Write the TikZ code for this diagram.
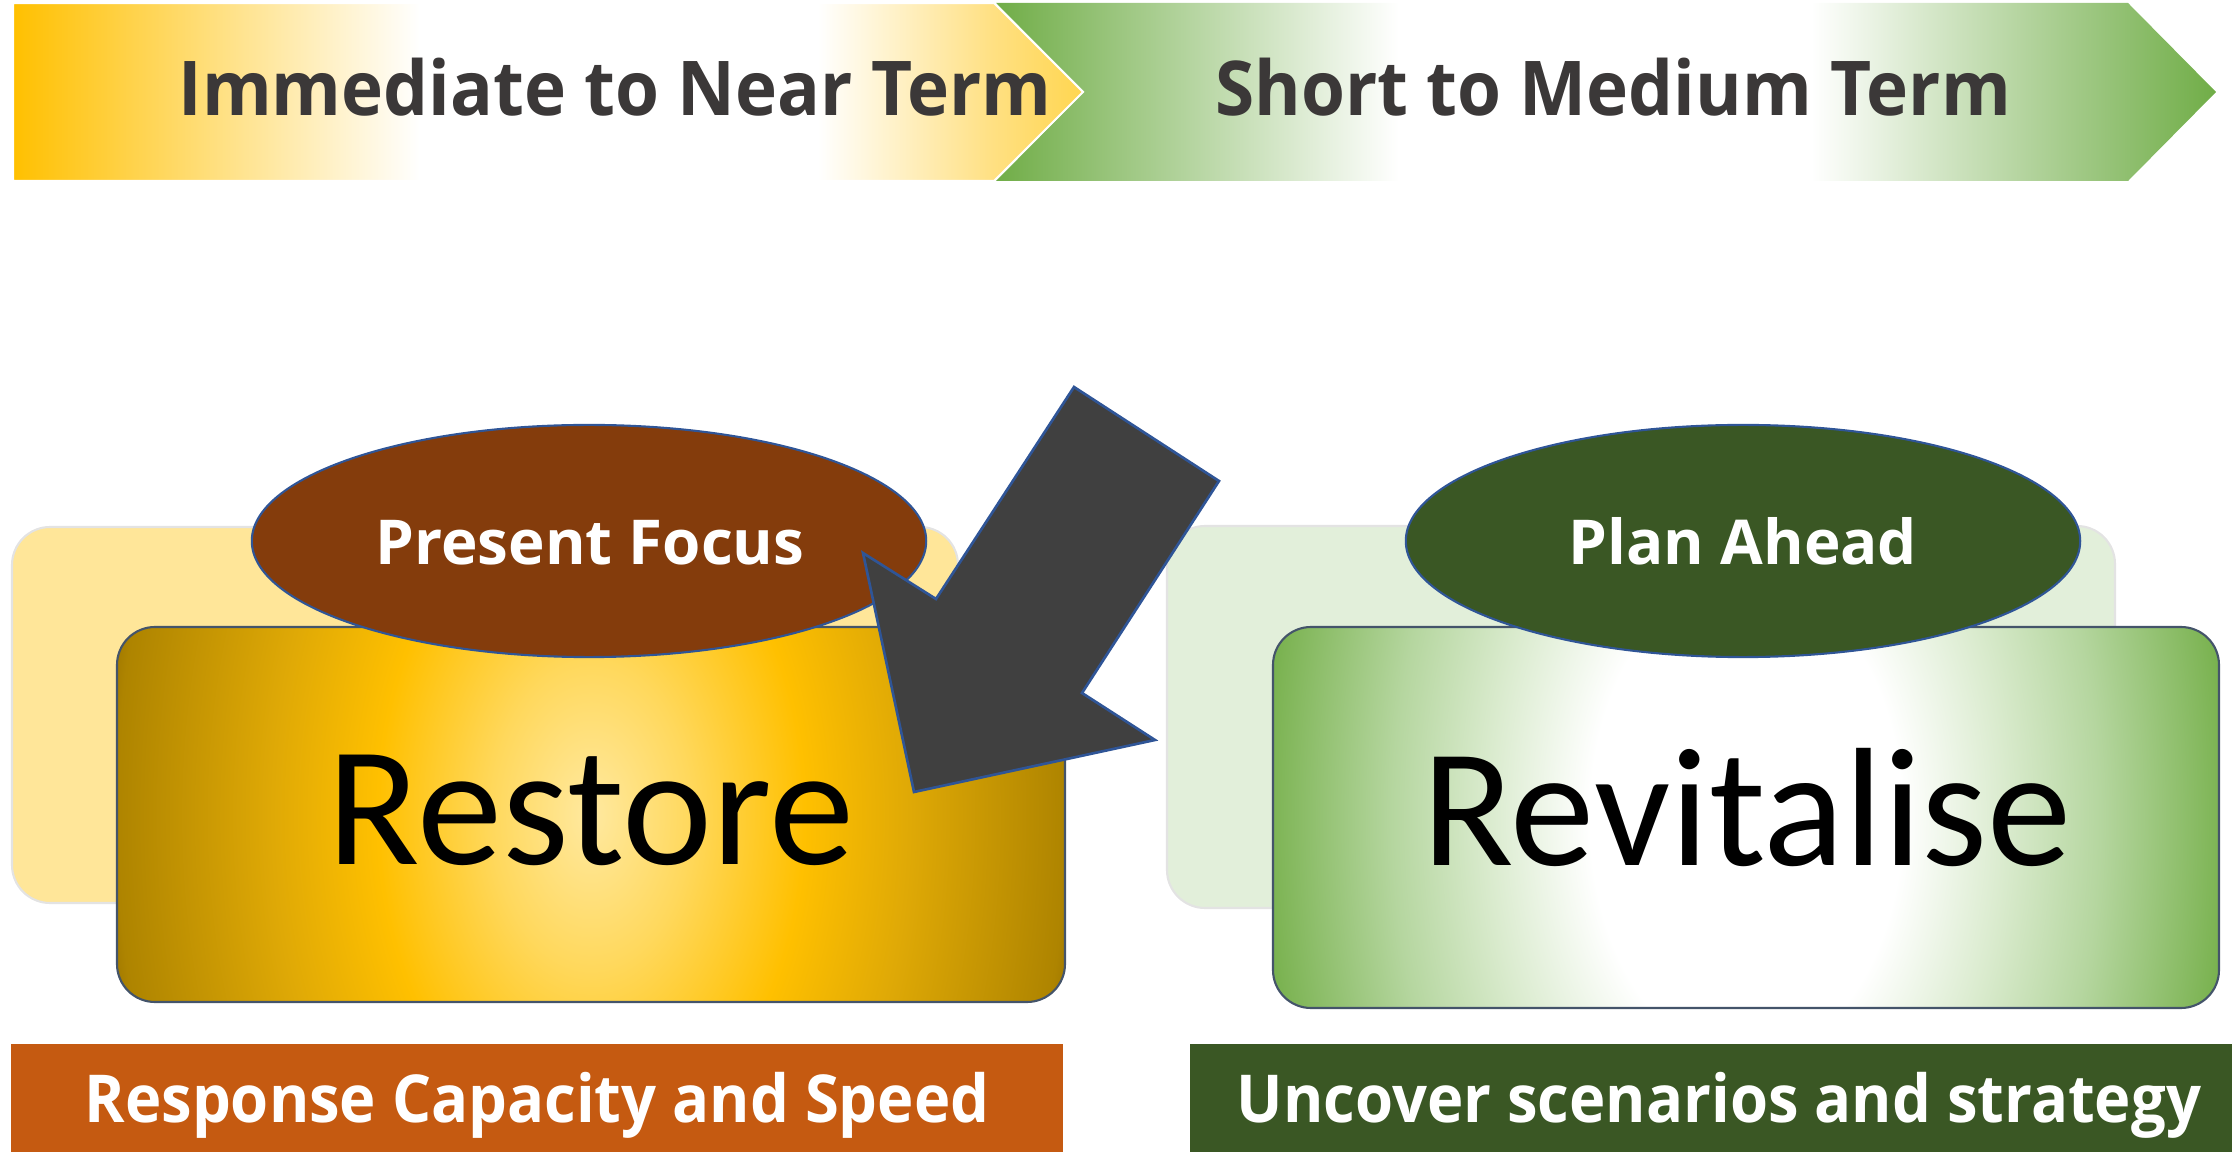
\documentclass[tikz,border=0pt]{standalone}
\usepackage{fontspec}
\setmainfont{Open Sans}
\newfontfamily\bannerfont{Open Sans}[FakeStretch=0.94]
\newfontfamily\footfont{Open Sans}[FakeStretch=0.93]
\newfontfamily\calfont{Carlito}
\usetikzlibrary{shapes.geometric}

\definecolor{Ybase}{HTML}{FFC000}
\definecolor{Ymid}{HTML}{FFE082}
\definecolor{Yend}{HTML}{FFD650}
\definecolor{Gbase}{HTML}{70AD47}
\definecolor{LightY}{HTML}{FFE699}
\definecolor{LightG}{HTML}{E2EFDA}
\definecolor{BrownE}{HTML}{843C0C}
\definecolor{DkGreen}{HTML}{3A5724}
\definecolor{OrangeB}{HTML}{C55A11}
\definecolor{TxtGray}{HTML}{3B3838}
\definecolor{EdgeBlue}{HTML}{2F5597}
\definecolor{BoxEdge}{HTML}{44546A}
\definecolor{ArrowFill}{HTML}{404040}
\definecolor{SoftGray}{HTML}{E3E3E3}
\definecolor{G0}{HTML}{FFE9A0}
\definecolor{G05}{HTML}{FFD85C}
\definecolor{G1}{HTML}{FFC000}
\definecolor{G15}{HTML}{DFA906}
\definecolor{G2}{HTML}{AE8400}
\definecolor{G3}{HTML}{9A7300}
\definecolor{V0}{HTML}{FFFFFF}
\definecolor{V05}{HTML}{DAEBCE}
\definecolor{V1}{HTML}{B5D69F}
\definecolor{V2}{HTML}{7DB454}
\definecolor{V3}{HTML}{70AD47}

\pgfdeclarehorizontalshading{yellowband}{100bp}{color(0bp)=(Ybase); color(25bp)=(Ybase); color(44bp)=(white); color(62.6bp)=(white); color(70.8bp)=(Ymid); color(75bp)=(Yend); color(100bp)=(Yend)}
\pgfdeclarehorizontalshading{greenband}{100bp}{color(0bp)=(Gbase); color(25bp)=(Gbase); color(41.5bp)=(white); color(58.4bp)=(white); color(75bp)=(Gbase); color(100bp)=(Gbase)}
\pgfdeclareradialshading{goldglow}{\pgfpoint{0bp}{0bp}}{color(0bp)=(G0); color(4.8bp)=(G05); color(10.25bp)=(G1); color(15.3bp)=(G15); color(22.8bp)=(G2); color(23.8bp)=(G3); color(50bp)=(G3)}
\pgfdeclareradialshading{greenglow}{\pgfpoint{0bp}{0bp}}{color(0bp)=(V0); color(7.5bp)=(V0); color(12.4bp)=(V05); color(17bp)=(V1); color(22.8bp)=(V2); color(23.8bp)=(V3); color(50bp)=(V3)}

\tikzset{
  bantext/.style={text=TxtGray, font=\bannerfont\bfseries\fontsize{21.5pt}{24pt}\selectfont, inner sep=0pt, anchor=base},
  ovaltext/.style={text=white, font=\bfseries\fontsize{17.6pt}{20pt}\selectfont, inner sep=0pt, anchor=base},
  bigword/.style={text=black, font=\calfont\fontsize{48.5pt}{56pt}\selectfont, inner sep=0pt, anchor=base},
  foottext/.style={text=white, font=\footfont\bfseries\fontsize{18.8pt}{22pt}\selectfont, inner sep=0pt, anchor=base},
  backcard/.style={draw=SoftGray, line width=0.6pt, rounded corners=0.38cm},
  frontcard/.style={draw=BoxEdge, line width=0.6pt, rounded corners=0.38cm},
  oval/.style={ellipse, draw=EdgeBlue, line width=0.6pt, minimum width=6.74cm, minimum height=2.32cm, inner sep=0pt},
}

\begin{document}
\begin{tikzpicture}[x=0.01cm,y=-0.01cm]
\useasboundingbox (0,0) rectangle (2232,1152);

% top banners
\path[shading=greenband] (996,3) -- (2128,3) -- (2216,92) -- (2128,181) -- (996,181) -- (1084,92) -- cycle;
\path[shading=yellowband, draw=white, line width=0.6pt] (13,3) -- (994,3) -- (1083,92) -- (994,181) -- (13,181) -- cycle;
\node[bantext] (near) at (615,116) {Immediate to Near Term};
\node[bantext] (medium) at (1613,116) {Short to Medium Term};

% left group
\path[backcard, fill=LightY] (12,527) rectangle (958,903);
\begin{scope}
  \clip[rounded corners=0.38cm] (117,627) rectangle (1065,1002);
  \shade[shading=goldglow] (591,815) ellipse [x radius=5.2cm, y radius=8cm];
\end{scope}
\draw[frontcard] (117,627) rectangle (1065,1002);
\node[bigword] (restore) at (591,864) {Restore};
\node[oval, fill=BrownE] (present) at (589,541) {};
\node[ovaltext] (presenttxt) at (590,565) {Present Focus};

% right group
\path[backcard, fill=LightG] (1167,526) rectangle (2115,908);
\begin{scope}
  \clip[rounded corners=0.38cm] (1273,627) rectangle (2219,1008);
  \shade[shading=greenglow] (1746,818) ellipse [x radius=5.2cm, y radius=8cm];
\end{scope}
\draw[frontcard] (1273,627) rectangle (2219,1008);
\node[bigword, font=\calfont\fontsize{48pt}{56pt}\selectfont] (revital) at (1747,866) {Revitalise};
\node[oval, fill=DkGreen] (plan) at (1743,541) {};
\node[ovaltext] (plantxt) at (1743,565) {Plan Ahead};

% big arrow
\draw[fill=ArrowFill, draw=EdgeBlue, line width=0.75pt, line join=miter]
  (1074,387) -- (1219,481) -- (1082,693) -- (1155,740) -- (914,792) -- (863,553) -- (936,599) -- cycle;

% bottom banners
\fill[OrangeB] (11,1044) rectangle (1063,1152);
\fill[DkGreen] (1190,1044) rectangle (2232,1152);
\node[foottext] (speed) at (537,1123) {Response Capacity and Speed};
\node[foottext] (strategy) at (1719,1123) {Uncover scenarios and strategy};
\end{tikzpicture}
\end{document}
